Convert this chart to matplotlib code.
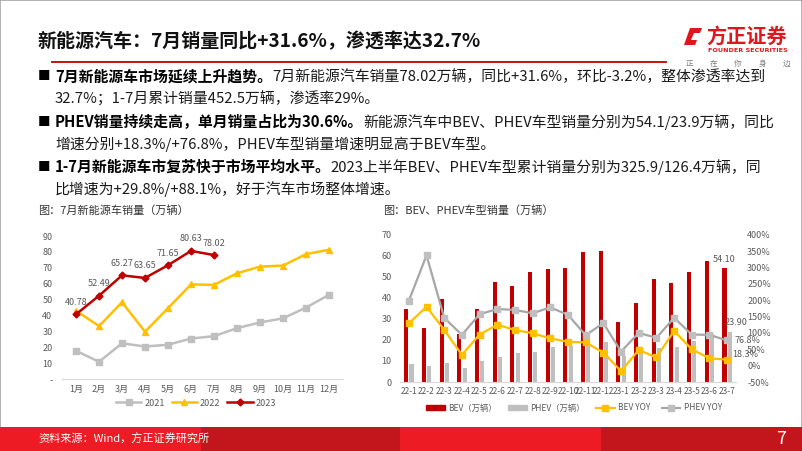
import matplotlib
matplotlib.use("Agg")
import matplotlib.pyplot as plt
from matplotlib.patches import Rectangle, Polygon, Patch
from matplotlib.lines import Line2D

plt.rcParams['font.family'] = ['Noto Sans CJK SC', 'DejaVu Sans']

W, H = 802, 451

# ---- data ----
months = ['1月', '2月', '3月', '4月', '5月', '6月', '7月', '8月', '9月', '10月', '11月', '12月']
sales_2021 = [17.9, 11.0, 22.6, 20.6, 21.7, 25.6, 27.1, 32.1, 35.7, 38.3, 45.0, 53.1]
sales_2022 = [43.1, 33.4, 48.4, 29.9, 44.7, 59.6, 59.3, 66.6, 70.8, 71.4, 78.6, 81.4]
sales_2023 = [40.78, 52.49, 65.27, 63.65, 71.65, 80.63, 78.02]

periods = ['22-1', '22-2', '22-3', '22-4', '22-5', '22-6', '22-7', '22-8', '22-9', '22-10',
           '22-11', '22-12', '23-1', '23-2', '23-3', '23-4', '23-5', '23-6', '23-7']
bev = [34.5, 25.8, 39.6, 23.0, 34.5, 47.5, 45.8, 52.1, 53.7, 54.0,
       61.6, 62.4, 28.5, 37.4, 48.8, 46.9, 52.1, 57.4, 54.1]
phev = [8.6, 7.6, 8.9, 6.7, 10.0, 12.0, 13.6, 14.4, 16.8, 17.1,
        17.7, 18.9, 12.2, 14.6, 16.3, 16.6, 19.5, 23.0, 23.9]
bev_yoy = [129, 180, 109, 33, 95, 125, 109, 99, 83, 73,
           71, 40, -17, 48, 25, 106, 50, 22, 18.3]
phev_yoy = [198, 337, 146, 94, 157, 173, 170, 160, 178, 155,
            93, 130, 43, 100, 85, 146, 95, 94, 76.8]

RED = '#C00000'
GOLD = '#FFC000'
GREY = '#BFBFBF'
TXT = '#595959'


def rect(l, t, r, b):
    return [l / W, 1 - b / H, (r - l) / W, (b - t) / H]


fig = plt.figure(figsize=(W / 100, H / 100), dpi=100)
renderer = fig.canvas.get_renderer()

# slide frame
fig.add_artist(Rectangle((0, 0), 1, 1, transform=fig.transFigure, fill=False,
                         edgecolor='#A6A6A6', lw=1.2))

# ---- header ----
fig.text(38 / W, 1 - 41 / H, '新能源汽车：7月销量同比+31.6%，渗透率达32.7%',
         fontsize=13.7, fontweight='bold', va='center', ha='left', color='#111111')
fig.add_artist(Line2D([52 / W, 666 / W], [1 - 61.5 / H, 1 - 61.5 / H],
                      transform=fig.transFigure, color=RED, lw=1.3))

# logo
icon = [(684, 45), (690, 28), (702, 28), (700, 33), (694, 33), (691, 40), (697, 40), (695, 45)]
fig.add_artist(Polygon([(x / W, 1 - y / H) for x, y in icon], closed=True,
                       transform=fig.transFigure, facecolor='#E0161D', edgecolor='none'))
fig.text(747 / W, 1 - 36 / H, '方正证券', fontsize=14.5, fontweight='bold', color='#E0161D',
         ha='center', va='center')
fig.text(748 / W, 1 - 51 / H, 'FOUNDER SECURITIES', fontsize=4.6, fontweight='bold',
         color='#E0161D', ha='center', va='center', family='DejaVu Sans')
for i, ch in enumerate('正在你身边'):
    fig.text((689 + i * 24.5) / W, 1 - 64 / H, ch, fontsize=5.5, color='#7F7F7F',
             ha='center', va='center')

# ---- bullet text ----
body = 10.7


def rich_line(x, y, segments):
    for txt, bold in segments:
        t = fig.text(x / W, 1 - y / H, txt, fontsize=body,
                     fontweight='bold' if bold else 'normal',
                     color='#000000' if bold else '#1A1A1A', ha='left', va='center')
        x += t.get_window_extent(renderer).width


lines = [
    (77, True, [('7月新能源车市场延续上升趋势。', True),
                ('7月新能源汽车销量78.02万辆，同比+31.6%，环比-3.2%，整体渗透率达到', False)]),
    (99, False, [('32.7%；1-7月累计销量452.5万辆，渗透率29%。', False)]),
    (122, True, [('PHEV销量持续走高，单月销量占比为30.6%。', True),
                 ('新能源汽车中BEV、PHEV车型销量分别为54.1/23.9万辆，同比', False)]),
    (144, False, [('增速分别+18.3%/+76.8%，PHEV车型销量增速明显高于BEV车型。', False)]),
    (167, True, [('1-7月新能源车市复苏快于市场平均水平。', True),
                 ('2023上半年BEV、PHEV车型累计销量分别为325.9/126.4万辆，同', False)]),
    (189, False, [('比增速为+29.8%/+88.1%，好于汽车市场整体增速。', False)]),
]
for y, bullet, segs in lines:
    if bullet:
        fig.text(38 / W, 1 - y / H, '■', fontsize=9, color='#000000', ha='left', va='center')
    rich_line(55, y, segs)

# chart titles
fig.text(38 / W, 1 - 211 / H, '图：7月新能源车销量（万辆）', fontsize=8, color='#333333',
         ha='left', va='center')
fig.text(383 / W, 1 - 211 / H, '图：BEV、PHEV车型销量（万辆）', fontsize=8, color='#333333',
         ha='left', va='center')

# ---- chart 1 ----
ax1 = fig.add_axes(rect(62.2, 236, 342.8, 379.3))
x1 = list(range(len(months)))
ax1.plot(x1, sales_2021, color=GREY, lw=1.8, marker='s', ms=4, label='2021')
ax1.plot(x1, sales_2022, color=GOLD, lw=1.8, marker='^', ms=4.5, label='2022')
ax1.plot(x1[:len(sales_2023)], sales_2023, color=RED, lw=1.8, marker='D', ms=3.5, label='2023')
for i, v in enumerate(sales_2023):
    ax1.annotate(f'{v:.2f}', (i, v), xytext=(0, 12), textcoords='offset pixels',
                 ha='center', va='center', fontsize=6.5, color=TXT)
ax1.set_xlim(-0.6, 11.6)
ax1.set_ylim(0, 90)
ax1.set_xticks(x1)
ax1.set_xticklabels(months)
ax1.set_yticks(range(0, 91, 10))
ax1.set_yticklabels(['-'] + [str(v) for v in range(10, 91, 10)])
ax1.tick_params(length=0, labelsize=6.5, labelcolor=TXT)
ax1.tick_params(axis='y', pad=7)
ax1.tick_params(axis='x', pad=4)
for s in ['top', 'left', 'right']:
    ax1.spines[s].set_visible(False)
ax1.spines['bottom'].set_color('#D9D9D9')
ax1.patch.set_alpha(0)
ax1.legend(loc='center', bbox_to_anchor=(196 / W, 1 - 403 / H), bbox_transform=fig.transFigure,
           ncol=3, frameon=False, fontsize=6.5, handlelength=2.8, columnspacing=0.8,
           handletextpad=0.3, labelcolor=TXT)

# ---- chart 2 ----
ax2 = fig.add_axes(rect(400, 234.7, 736, 382))
x2 = list(range(len(periods)))
ax2.bar([i - 0.15 for i in x2], bev, width=0.23, color=RED, label='BEV（万辆）')
ax2.bar([i + 0.15 for i in x2], phev, width=0.23, color=GREY, label='PHEV（万辆）')
ax2.set_xlim(-0.5, 18.5)
ax2.set_ylim(0, 70)
ax2.set_yticks(range(0, 71, 10))
ax2.set_xticks(x2)
ax2.set_xticklabels(periods)
ax2.tick_params(length=0, labelsize=6.5, labelcolor=TXT)
ax2.tick_params(axis='x', labelsize=6)
ax2.tick_params(axis='y', pad=6)
for s in ['top', 'left', 'right']:
    ax2.spines[s].set_visible(False)
ax2.spines['bottom'].set_color('#D9D9D9')
ax2.annotate(f'{bev[-1]:.2f}', (18 - 0.15, bev[-1]), xytext=(0, 9), textcoords='offset pixels',
             ha='center', va='center', fontsize=6.5, color=TXT)
ax2.annotate(f'{phev[-1]:.2f}', (18 + 0.15, phev[-1]), xytext=(6, 9), textcoords='offset pixels',
             ha='center', va='center', fontsize=6.5, color=TXT)

ax2r = ax2.twinx()
ax2r.plot(x2, bev_yoy, color=GOLD, lw=1.6, marker='s', ms=4, label='BEV YOY')
ax2r.plot(x2, phev_yoy, color='#A6A6A6', lw=1.6, marker='s', ms=4, mfc=GREY, mec=GREY,
          label='PHEV YOY')
ax2r.set_ylim(-50, 400)
ax2r.set_yticks(range(-50, 401, 50))
ax2r.set_yticklabels([f'{v}%' for v in range(-50, 401, 50)])
ax2r.tick_params(length=0, labelsize=6.5, labelcolor=TXT, pad=8)
for s in ['top', 'left', 'right', 'bottom']:
    ax2r.spines[s].set_visible(False)
ax2r.annotate(f'{phev_yoy[-1]}%', (18, phev_yoy[-1]), xytext=(7, 0), textcoords='offset pixels',
              ha='left', va='center', fontsize=6.5, color=TXT)
ax2r.annotate(f'{bev_yoy[-1]}%', (18, bev_yoy[-1]), xytext=(5, 5), textcoords='offset pixels',
              ha='left', va='center', fontsize=6.5, color=TXT)

handles = [Patch(color=RED), Patch(color=GREY),
           Line2D([], [], color=GOLD, lw=1.6, marker='s', ms=4),
           Line2D([], [], color='#A6A6A6', lw=1.6, marker='s', ms=4, mfc=GREY, mec=GREY)]
labels = ['BEV（万辆）', 'PHEV（万辆）', 'BEV YOY', 'PHEV YOY']
ax2.legend(handles, labels, loc='center', bbox_to_anchor=(574 / W, 1 - 408 / H),
           bbox_transform=fig.transFigure, ncol=4, frameon=False, fontsize=6,
           handlelength=2.2, handleheight=0.6, columnspacing=1.4, handletextpad=0.4,
           labelcolor=TXT)

# ---- footer ----
band = [(0, '#ED1C24'), (201, '#C3161C'), (400, '#ED1C24'), (601, '#C3161C')]
for i, (x0, c) in enumerate(band):
    x1e = band[i + 1][0] if i + 1 < len(band) else W
    fig.add_artist(Rectangle((x0 / W, 0), (x1e - x0) / W, 24 / H, transform=fig.transFigure,
                             facecolor=c, edgecolor='none'))
fig.text(38 / W, 1 - 439 / H, '资料来源：Wind，方正证券研究所', fontsize=8, color='white',
         ha='left', va='center', style='italic')
fig.text(781 / W, 1 - 439 / H, '7', fontsize=13, color='white', ha='center', va='center')

fig.savefig('out.png', dpi=100)
